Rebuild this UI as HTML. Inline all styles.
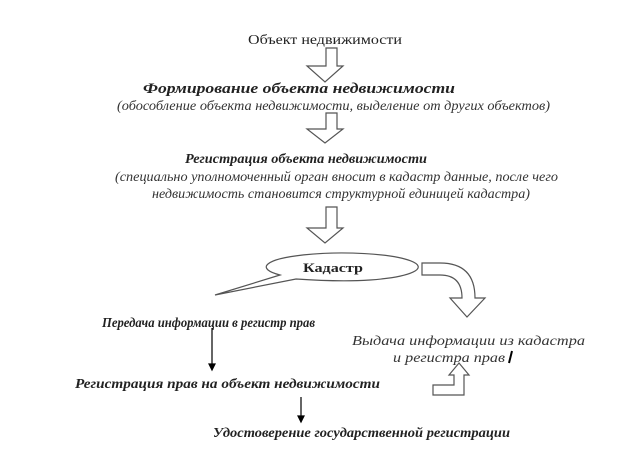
<!DOCTYPE html>
<html><head><meta charset="utf-8"><style>
body{margin:0;background:#fff}
svg{display:block}
text{font-family:"Liberation Serif","DejaVu Serif",serif;fill:#222}
.b{font-weight:bold;font-style:italic;font-size:13.5px}
.i{font-style:italic;font-size:13px;fill:#333}
</style></head><body>
<svg width="620" height="454" viewBox="0 0 620 454">
<g fill="#fff" stroke="#555" stroke-width="1.2">
<polygon points="326,48 337,48 337,66 343,66 325,82 307,66 326,66"/>
<polygon points="326,113 337,113 337,129 343,129 325,143 307,129 326,129"/>
<polygon points="326,207 337,207 337,228 343,228 325,243 307,228 326,228"/>
<path d="M422,263 L440,263 Q475,263 475,298 L485,298 L467,317 L450,298 L462,298 Q462,275 440,275 L422,275 Z"/>
<path d="M280,275 L215,295 L296,279 Q340,282 370,280 A76,14 0 1 0 280,275 Z"/>
<polygon points="459,363 469,375 464,375 464,395 433,395 433,385 454,385 454,375 449,375"/>
</g>
<g stroke="#000" stroke-width="1.2" fill="#000">
<line x1="212" y1="328" x2="212" y2="366"/><polygon points="209,364 215,364 212,370"/>
<line x1="301" y1="397" x2="301" y2="418"/><polygon points="298,416 304,416 301,422"/>
<path d="M512,351 L509,363" stroke-width="2" fill="none"/>
</g>
<text x="248" y="44" font-size="14" textLength="154" lengthAdjust="spacingAndGlyphs">Объект недвижимости</text>
<text x="143" y="93" class="b" font-size="15" style="font-size:15px" textLength="312" lengthAdjust="spacingAndGlyphs">Формирование объекта недвижимости</text>
<text x="117" y="110" class="i" style="font-size:13.5px" textLength="433" lengthAdjust="spacingAndGlyphs">(обособление объекта недвижимости, выделение от других объектов)</text>
<text x="185" y="163" class="b" style="font-size:14px" textLength="242" lengthAdjust="spacingAndGlyphs">Регистрация объекта недвижимости</text>
<text x="115" y="181" class="i" style="font-size:13.5px" textLength="443" lengthAdjust="spacingAndGlyphs">(специально уполномоченный орган вносит в кадастр данные, после чего</text>
<text x="152" y="198" class="i" style="font-size:13.5px" textLength="378" lengthAdjust="spacingAndGlyphs">недвижимость становится структурной единицей кадастра)</text>
<text x="303" y="272" font-size="13" font-weight="bold" textLength="60" lengthAdjust="spacingAndGlyphs">Кадастр</text>
<text x="102" y="327" class="b" textLength="213" lengthAdjust="spacingAndGlyphs">Передача информации в регистр прав</text>
<text x="352" y="345" class="i" style="font-size:14px" textLength="233" lengthAdjust="spacingAndGlyphs">Выдача информации из кадастра</text>
<text x="393" y="362" class="i" style="font-size:14px" textLength="112" lengthAdjust="spacingAndGlyphs">и регистра прав</text>
<text x="75" y="388" class="b" style="font-size:14px" textLength="305" lengthAdjust="spacingAndGlyphs">Регистрация прав на объект недвижимости</text>
<text x="213" y="437" class="b" style="font-size:14px" textLength="297" lengthAdjust="spacingAndGlyphs">Удостоверение государственной регистрации</text>
</svg>
</body></html>
